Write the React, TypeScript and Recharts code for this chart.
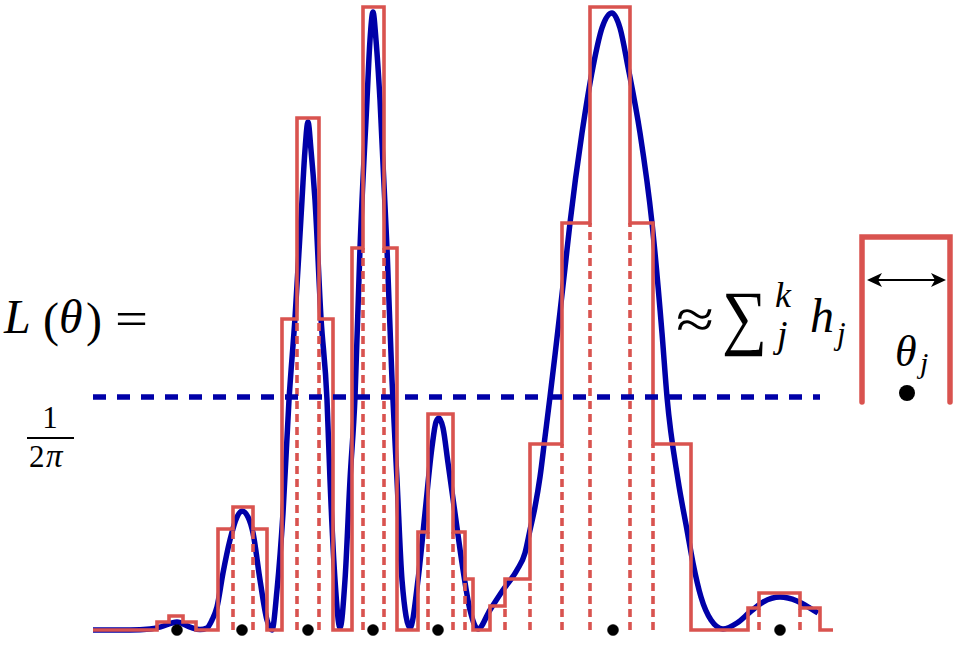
import React from 'react';
import { ComposedChart, Line, XAxis, YAxis, ReferenceLine, ReferenceDot } from 'recharts';

// θ positions (arbitrary units) and likelihood values
const curveTheta = [0, 3.7, 5.7, 6.7, 8.4, 9.7, 10.7, 11.4, 11.9, 12.4, 13.0, 13.7, 14.4, 14.9, 15.5, 16.0, 16.7, 17.4, 17.9, 18.4, 19.0, 19.6, 20.2, 20.9, 21.2, 21.5, 21.8, 22.2, 22.8, 23.4, 23.7, 24.2, 24.7, 25.2, 25.7, 26.2, 26.7, 27.4, 27.7, 28.0, 28.3, 28.7, 29.4, 29.9, 30.4, 30.9, 31.7, 32.5, 33.2, 33.9, 34.3, 34.6, 35.0, 35.5, 36.2, 36.9, 37.7, 38.5, 39.7, 41.0, 42.4, 43.2, 43.7, 44.2, 44.7, 45.2, 45.7, 46.2, 46.7, 47.2, 47.7, 48.9, 50.0, 50.9, 51.9, 52.7, 53.5, 54.7, 55.9, 56.9, 57.4, 58.5, 59.4, 60.0, 60.8, 61.8, 63.0, 64.4, 65.7, 67.0, 68.7, 70.4, 71.7, 72.5];
const curveL = [0, 0, 0.0007, 0.002, 0.0055, 0.002, 0.0003, 0.0014, 0.0068, 0.0157, 0.0389, 0.0615, 0.0772, 0.0813, 0.0772, 0.0663, 0.0342, 0.0068, 0, 0.0273, 0.0799, 0.1571, 0.2131, 0.2937, 0.3279, 0.347, 0.3279, 0.2937, 0.2131, 0.1571, 0.1025, 0.0342, 0.0014, 0.0342, 0.1025, 0.1592, 0.2609, 0.362, 0.403, 0.4221, 0.403, 0.362, 0.2609, 0.1708, 0.1025, 0.0342, 0.0014, 0.0342, 0.0799, 0.125, 0.1421, 0.1448, 0.138, 0.1141, 0.0799, 0.0458, 0.0137, 0.0007, 0.0137, 0.0273, 0.041, 0.0526, 0.0683, 0.084, 0.1045, 0.1318, 0.1592, 0.1878, 0.2172, 0.2473, 0.278, 0.3395, 0.3846, 0.4112, 0.4214, 0.4112, 0.3846, 0.3395, 0.278, 0.2029, 0.1592, 0.1025, 0.0683, 0.0458, 0.0225, 0.0068, 0.0007, 0.0048, 0.0123, 0.0191, 0.0225, 0.0198, 0.015, 0.0116];

const binEdges = [0, 6.4, 7.6, 9.0, 10.3, 12.5, 14.0, 16.0, 17.4, 18.9, 20.4, 22.6, 24.0, 25.9, 27.0, 29.1, 30.4, 32.5, 33.5, 36.0, 37.2, 38.0, 39.7, 41.2, 43.7, 46.9, 49.7, 53.7, 56.0, 59.8, 65.5, 66.6, 70.7, 72.7, 74.0];
const binHeights = [0, 0.0055, 0.0096, 0.0055, 0, 0.069, 0.084, 0.069, 0, 0.2124, 0.3497, 0.2124, 0, 0.2609, 0.4255, 0.2609, 0, 0.0669, 0.1475, 0.0669, 0.0348, 0, 0.0164, 0.0348, 0.127, 0.278, 0.4255, 0.278, 0.127, 0, 0.015, 0.0253, 0.015, 0];

const centerTheta = [8.4, 14.9, 21.5, 28.0, 34.5, 52.0, 68.7];

const uniformLevel = 1 / (2 * Math.PI);
const uniformEnd = 72.7;

const curveData = curveTheta.map((t, i) => ({ t, L: curveL[i] }));
const stepData = binEdges.map((t, i) => ({ t, L: i < binHeights.length ? binHeights[i] : 0 }));
const innerEdges = binEdges
  .map((t, i) => ({ t, h: i > 0 && i < binHeights.length ? Math.min(binHeights[i - 1], binHeights[i]) : 0 }))
  .filter((e) => e.h > 0.01);

const BLUE = '#0000a8';
const RED = '#d9534f';
const SERIF = '"Liberation Serif", "DejaVu Serif", serif';
const SYM = '"DejaVu Serif", serif';

export default function App() {
  return (
    <div style={{ position: 'absolute', left: 0, top: 0, width: 964, height: 651, background: '#fff' }}>
      <ComposedChart width={964} height={651} margin={{ top: 0, right: 131, bottom: 11, left: 93 }}>
        <XAxis type="number" dataKey="t" domain={[0, 74]} hide allowDataOverflow />
        <YAxis type="number" dataKey="L" domain={[-0.00683, 0.4303]} hide allowDataOverflow />
        <Line data={curveData} dataKey="L" type="monotone" stroke={BLUE} strokeWidth={5.5} dot={false} activeDot={false} isAnimationActive={false} />
        {innerEdges.map((e) => (
          <ReferenceLine key={e.t} segment={[{ x: e.t, y: 0 }, { x: e.t, y: e.h }]} stroke={RED} strokeWidth={3.6} strokeDasharray="8 5" />
        ))}
        <Line data={stepData} dataKey="L" type="stepAfter" stroke={RED} strokeWidth={3.6} dot={false} activeDot={false} isAnimationActive={false} />
        <ReferenceLine segment={[{ x: 0, y: uniformLevel }, { x: uniformEnd, y: uniformLevel }]} stroke={BLUE} strokeWidth={5.5} strokeDasharray="13 11" />
        {centerTheta.map((t) => (
          <ReferenceDot key={t} x={t} y={0} r={5.5} fill="#000" stroke="#000" strokeWidth={0.5} />
        ))}
      </ComposedChart>
      <svg width={964} height={651} style={{ position: 'absolute', left: 0, top: 0, pointerEvents: 'none' }}>
        {/* L(θ) = */}
        <text x={4} y={333} fontSize={48} fontFamily={SERIF} fontStyle="italic">L</text>
        <text x={43} y={336} fontSize={48} fontFamily={SERIF}>(</text>
        <text x={59} y={333} fontSize={48} fontFamily={SERIF} fontStyle="italic">θ</text>
        <text x={86} y={336} fontSize={48} fontFamily={SERIF}>)</text>
        <text x={115} y={335} fontSize={48} fontFamily={SERIF} textLength={33} lengthAdjust="spacingAndGlyphs">=</text>
        {/* 1 / 2π */}
        <text x={50} y={428} fontSize={31} fontFamily={SERIF} textAnchor="middle">1</text>
        <line x1={27} y1={438} x2={74} y2={438} stroke="#000" strokeWidth={1.8} />
        <text x={29} y={467} fontSize={31} fontFamily={SERIF}>2</text>
        <text x={46} y={467} fontSize={33} fontFamily={SERIF} fontStyle="italic">π</text>
        {/* ≈ Σ_j^k h_j */}
        <text x={676} y={338} fontSize={56} fontFamily={SERIF} textLength={38} lengthAdjust="spacingAndGlyphs">≈</text>
        <text x={722} y={341} fontSize={72} fontFamily={SERIF} textLength={45} lengthAdjust="spacingAndGlyphs">∑</text>
        <text x={775} y={307} fontSize={36} fontFamily={SERIF} fontStyle="italic">k</text>
        <text x={777} y={347} fontSize={38} fontFamily={SERIF} fontStyle="italic">j</text>
        <text x={810} y={332} fontSize={48} fontFamily={SERIF} fontStyle="italic">h</text>
        <text x={837} y={344} fontSize={31} fontFamily={SERIF} fontStyle="italic">j</text>
        {/* bin legend */}
        <path d="M862,402 L862,237 L950,237 L950,402" fill="none" stroke={RED} strokeWidth={5.5} strokeLinecap="round" />
        <line x1={872} y1={280} x2={941} y2={280} stroke="#000" strokeWidth={1.8} />
        <path d="M867,280 L882,273 L878,280 L882,287 Z" fill="#000" />
        <path d="M946,280 L931,273 L935,280 L931,287 Z" fill="#000" />
        <text x={895} y={366} fontSize={44} fontFamily={SERIF} fontStyle="italic">θ</text>
        <text x={920} y={373} fontSize={30} fontFamily={SERIF} fontStyle="italic">j</text>
        <circle cx={907} cy={393} r={8} fill="#000" />
      </svg>
    </div>
  );
}
